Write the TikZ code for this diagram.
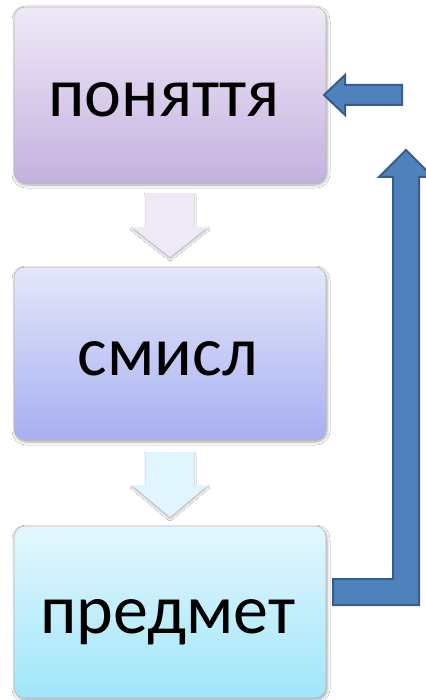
\documentclass[tikz,border=0pt]{standalone}
\usepackage{fontspec}
\setmainfont{Carlito}
\usetikzlibrary{shadows.blur}
\definecolor{topA}{HTML}{EFE9F7}
\definecolor{topB}{HTML}{C4B1DF}
\definecolor{midA}{HTML}{E4E7FB}
\definecolor{midB}{HTML}{A7AFF0}
\definecolor{botA}{HTML}{E4F7FD}
\definecolor{botB}{HTML}{A0E6FA}
\definecolor{arrA}{HTML}{EEE8F7}
\definecolor{arrB}{HTML}{E0F5FD}
\definecolor{blueF}{HTML}{4F81BD}
\definecolor{blueD}{HTML}{385D8A}
\begin{document}
\begin{tikzpicture}[x=1pt,y=-1pt,
  box/.style={draw=black!28, line width=0.6pt, rounded corners=11pt,
    minimum width=312pt, inner sep=0pt,
    blur shadow={shadow xshift=1pt, shadow yshift=-2pt, shadow blur radius=3pt, shadow opacity=35}},
  lbl/.style={font=\fontsize{70}{80}\selectfont, text=black},
  softarrow/.style={draw=none, blur shadow={shadow xshift=0pt, shadow yshift=-2pt, shadow blur radius=2pt, shadow opacity=30}},
  bluearrow/.style={fill=blueF, draw=blueD, line width=2pt, line join=miter}]
\useasboundingbox (0,0) rectangle (425,700);
\fill[white] (0,0) rectangle (425,700);
% boxes
\node[box, minimum height=176pt, top color=topA, bottom color=topB] (b1) at (170,95) {};
\node[box, minimum height=173pt, top color=midA, bottom color=midB] (b2) at (170,353.5) {};
\node[box, minimum height=172pt, top color=botA, bottom color=botB] (b3) at (170,612) {};
\node[lbl, anchor=base] (t1) at (164,117) {поняття};
\node[lbl, anchor=base] (t2) at (168,375) {смисл};
\node[lbl, anchor=base] (t3) at (168,633) {предмет};
% soft down arrows
\path[softarrow, fill=arrA] (146,193) -- (194,193) -- (194,227) -- (208,227) -- (170,257) -- (132,227) -- (146,227) -- cycle;
\path[softarrow, fill=arrB] (146,452) -- (194,452) -- (194,485) -- (208,485) -- (170,517) -- (132,485) -- (146,485) -- cycle;
% blue left arrow
\coordinate (la) at (324,95);
\draw[bluearrow] (la) -- (345,75) -- (345,85) -- (402,85) -- (402,105) -- (345,105) -- (345,115) -- cycle;
% blue L arrow
\coordinate (ua) at (406,150);
\draw[bluearrow] (333,579) -- (393,579) -- (393,177) -- (379,177) -- (ua) -- (433,177) -- (419,177) -- (419,605) -- (333,605) -- cycle;
\end{tikzpicture}
\end{document}
